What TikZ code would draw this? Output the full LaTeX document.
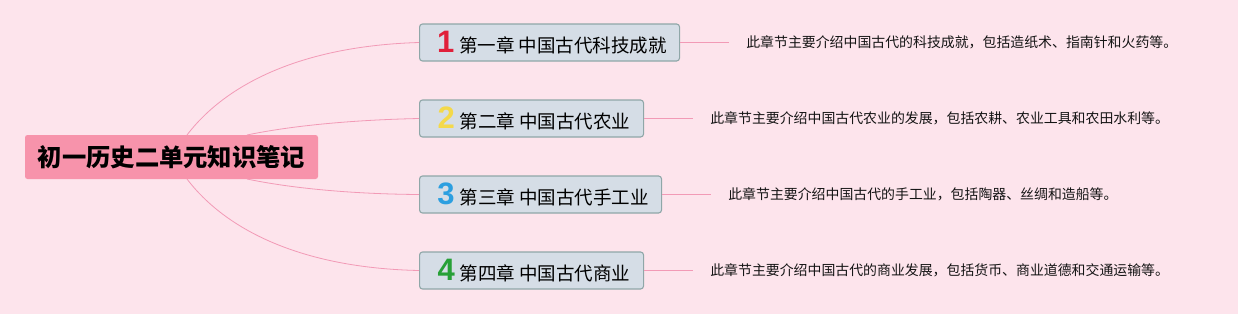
\documentclass[tikz,border=0pt]{standalone}
\usepackage{fontspec}
\setmainfont{Noto Sans CJK SC}
\newfontfamily\digitfont{Liberation Sans}
\usetikzlibrary{calc}
\definecolor{bgpink}{HTML}{FDE4EC}
\definecolor{rootfill}{HTML}{F793AB}
\definecolor{boxfill}{HTML}{D5DDE6}
\definecolor{boxline}{HTML}{8FA7A8}
\definecolor{linkpink}{HTML}{F29AB6}
\definecolor{numred}{HTML}{E0203A}
\definecolor{numyellow}{HTML}{F4D94A}
\definecolor{numblue}{HTML}{2C9FE0}
\definecolor{numgreen}{HTML}{27A037}
\tikzset{
  rootbox/.style={fill=rootfill, rounded corners=2.5pt, minimum width=293pt, minimum height=44pt, inner sep=0pt, font=\fontsize{24.3}{28}\selectfont\bfseries},
  chapbox/.style={fill=boxfill, draw=boxline, line width=1.1pt, rounded corners=3pt, minimum height=37pt, inner sep=0pt, anchor=west, font=\fontsize{18.5}{22}\selectfont},
  desc/.style={anchor=west, inner sep=0pt, text=black!92, font=\fontsize{13.9}{16}\selectfont},
  link/.style={draw=linkpink, line width=0.8pt}
}
\newcommand{\chnum}[2]{\hspace*{5pt}{\digitfont\bfseries\fontsize{31}{31}\selectfont\color{#1}#2}\hspace{5pt}}
\begin{document}
\begin{tikzpicture}[x=1pt,y=-1pt]
\fill[bgpink] (0,0) rectangle (1238,314);
\useasboundingbox (0,0) rectangle (1238,314);
% root
\node[rootbox] (root) at (171.5,157) {初一历史二单元知识笔记};
\coordinate (t1) at (187,135);
\coordinate (t2) at (247,135);
\coordinate (b1) at (187,179);
\coordinate (b2) at (247,179);
% chapters
\node[chapbox, minimum width=260pt] (c1) at (419,42.5) {\chnum{numred}{1}第一章 中国古代科技成就};
\node[chapbox, minimum width=224pt] (c2) at (419,118.5) {\chnum{numyellow}{2}第二章 中国古代农业};
\node[chapbox, minimum width=242pt] (c3) at (419,194.5) {\chnum{numblue}{3}第三章 中国古代手工业};
\node[chapbox, minimum width=224pt] (c4) at (419,270.5) {\chnum{numgreen}{4}第四章 中国古代商业};
% links root -> chapters
\draw[link] (t1) .. controls (225,85) and (300,46) .. (c1.west);
\draw[link] (t2) .. controls (290,126) and (350,120) .. (c2.west);
\draw[link] (b2) .. controls (290,188) and (350,194) .. (c3.west);
\draw[link] (b1) .. controls (225,229) and (300,268) .. (c4.west);
% descriptions
\coordinate (e1) at ($(c1.east)+(49,0)$);
\coordinate (e2) at ($(c2.east)+(49,0)$);
\coordinate (e3) at ($(c3.east)+(49,0)$);
\coordinate (e4) at ($(c4.east)+(49,0)$);
\draw[link] (c1.east) -- (e1);
\draw[link] (c2.east) -- (e2);
\draw[link] (c3.east) -- (e3);
\draw[link] (c4.east) -- (e4);
\node[desc] (d1) at ($(e1)+(17,0)$) {此章节主要介绍中国古代的科技成就，包括造纸术、指南针和火药等。};
\node[desc] (d2) at ($(e2)+(17,0)$) {此章节主要介绍中国古代农业的发展，包括农耕、农业工具和农田水利等。};
\node[desc] (d3) at ($(e3)+(17,0)$) {此章节主要介绍中国古代的手工业，包括陶器、丝绸和造船等。};
\node[desc] (d4) at ($(e4)+(17,0)$) {此章节主要介绍中国古代的商业发展，包括货币、商业道德和交通运输等。};
\end{tikzpicture}
\end{document}
